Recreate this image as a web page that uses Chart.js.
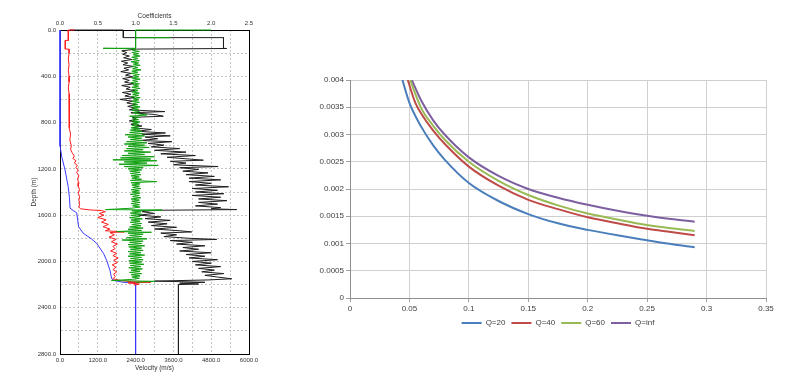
<!DOCTYPE html>
<html><head><meta charset="utf-8">
<script src="https://cdn.jsdelivr.net/npm/chart.js@4.4.1/dist/chart.umd.min.js"></script>
<style>
html,body{margin:0;padding:0;background:#fff;width:800px;height:379px;overflow:hidden}
#c1{position:absolute;left:0;top:0}
#c2{position:absolute;left:300px;top:0}
</style></head><body>
<canvas id="c1" width="265" height="379"></canvas>
<canvas id="c2" width="500" height="379"></canvas>
<script>
// ---------- Left panel: well log, [depth (m), value] ----------
const velocityTickLabels = [0, 1200, 2400, 3600, 4800, 6000];
const coefTickLabels = [0, 0.5, 1.0, 1.5, 2.0, 2.5];
const depthTickLabels = [0, 400, 800, 1200, 1600, 2000, 2400, 2800];

// blue velocity log [depth, m/s]
const blueLog = [[0,0],[1000,0],[1100,60],[1210,160],[1354,260],[1450,300],[1540,320],[1560,420],[1580,530],[1640,560],[1700,590],[1757,740],[1805,1000],[1843,1160],[1930,1380],[1990,1480],[2080,1590],[2150,1640],[2165,1715],[2180,2000],[2185,2400],[2800,2400]];

// black velocity log [depth, m/s]
const blackLog = [[0,320],[0,2010],[66,2010],[66,5190],[158,5190],[160,5290],[165,2430],
[180,1960],[195,2120],[210,1990],[225,2200],[240,2020],[255,2280],[270,1950],[285,2150],[300,2000],[315,2330],[330,2030],[345,2180],[360,1930],[375,2260],[390,2080],[405,2310],[420,1990],[435,2200],[450,2050],[465,2340],[480,1960],[495,2230],[510,2100],[525,2380],[540,1980],[555,2250],[570,2060],[585,2360],[600,1900],[615,2300],[630,2120],[645,2400],[660,2150],[675,2380],[690,2200],[705,3330],[715,2250],[730,3000],[745,3280],[755,2300],[770,2420],[785,2200],[800,2480],[815,2250],[830,2600],[845,2300],[860,2900],[875,2450],[890,3350],[900,2600],[915,3500],[925,2700],[940,3100],[955,2550],[965,3550],[980,2800],[995,3300],[1010,2900],[1025,3800],[1040,3000],[1055,4000],[1070,3200],[1085,4300],[1100,3400],[1115,4100],[1125,4550],[1135,3500],[1150,4000],[1165,3600],[1180,5020],[1190,3800],[1205,4400],[1220,3900],[1235,4700],[1250,4000],[1265,4900],[1280,4100],[1295,5100],[1310,4100],[1325,4800],[1340,4300],[1355,5350],[1370,4200],[1385,5000],[1400,4300],[1415,5200],[1430,4200],[1445,5100],[1460,4400],[1475,5300],[1490,4400],[1505,5000],[1520,4300],[1535,5100],[1545,4800],[1552,5610],[1558,3000],[1570,2600],[1585,3000],[1600,2500],[1615,3200],[1630,2700],[1645,3500],[1660,2800],[1675,3400],[1690,2900],[1705,3700],[1720,3000],[1735,3800],[1745,4180],[1755,3200],[1770,3700],[1785,3300],[1800,4100],[1810,4975],[1820,3500],[1835,4200],[1850,3700],[1865,4600],[1880,3900],[1895,4400],[1910,3800],[1925,4800],[1940,4000],[1955,4600],[1970,4100],[1985,5000],[2000,4200],[2015,4800],[2030,4300],[2045,5100],[2060,4400],[2075,4900],[2090,4500],[2105,5200],[2120,4600],[2135,5000],[2150,5450],[2160,4700],[2170,3000],[2180,4600],[2188,3800],[2195,4400],[2200,3760],[2800,3760]];

// red coefficient log [depth, coefficient]
const redLog = [[0,0.19],[0,0.11],[90,0.11],[90,0.07],[165,0.07],[165,0.12],[200,0.12],[250,0.11],[300,0.12],[350,0.11],[400,0.12],[450,0.12],[500,0.11],[550,0.12],[600,0.12],[650,0.12],[700,0.13],[750,0.12],[800,0.13],[850,0.12],[900,0.14],[950,0.13],[1000,0.15],[1030,0.14],[1060,0.16],[1090,0.19],[1110,0.17],[1130,0.21],[1150,0.19],[1170,0.23],[1190,0.21],[1210,0.24],[1230,0.22],[1260,0.25],[1290,0.23],[1320,0.25],[1350,0.24],[1380,0.26],[1410,0.24],[1440,0.26],[1470,0.25],[1500,0.26],[1530,0.25],[1545,0.27],[1555,0.40],[1560,0.55],[1570,0.60],[1585,0.52],[1600,0.58],[1620,0.50],[1640,0.61],[1660,0.55],[1680,0.64],[1700,0.57],[1720,0.66],[1735,0.60],[1745,0.85],[1750,0.66],[1770,0.72],[1790,0.65],[1810,0.74],[1830,0.68],[1850,0.76],[1870,0.70],[1890,0.73],[1910,0.67],[1930,0.75],[1950,0.70],[1970,0.77],[1990,0.71],[2010,0.76],[2030,0.69],[2050,0.74],[2070,0.70],[2090,0.75],[2110,0.71],[2130,0.73],[2150,0.70],[2165,0.80],[2175,0.95],[2180,1.20],[2185,0.90],[2195,1.05],[2205,0.98]];

// green coefficient log [depth, coefficient]
const greenLog = [[0,2.0],[0,1.0],[66,1.0],[66,1.46],[66,1.0],[158,1.0],[158,0.57],[162,1.0],
[175,0.96],[185,1.05],[195,0.95],[205,1.04],[215,0.97],[225,1.06],[235,0.95],[245,1.03],[255,0.96],[265,1.05],[275,0.94],[285,1.04],[295,0.97],[305,1.06],[315,0.95],[325,1.03],[335,0.96],[345,1.07],[355,0.95],[365,1.03],[375,0.94],[385,1.05],[395,0.97],[405,1.04],[415,0.95],[425,1.06],[435,0.96],[445,1.03],[455,0.94],[465,1.05],[475,0.97],[485,1.04],[495,0.95],[505,1.06],[515,0.96],[525,1.03],[535,0.95],[545,1.05],[555,0.96],[565,1.04],[575,0.94],[585,1.06],[595,0.97],[605,1.04],[615,0.95],[625,1.05],[635,0.96],[645,1.03],[655,0.95],[665,1.06],[675,0.96],[685,1.04],[695,0.95],[705,1.05],[715,0.97],[725,1.04],[735,1.15],[745,0.92],[755,1.05],[765,0.96],[775,1.04],[785,0.95],[795,1.06],[805,0.96],[815,1.04],[825,0.95],[835,1.05],[845,0.94],[855,1.06],[865,0.93],[875,1.08],[885,0.92],[895,1.10],[905,0.86],[915,1.12],[925,0.90],[935,1.08],[945,0.93],[955,1.10],[965,0.88],[975,1.15],[985,0.85],[995,1.12],[1005,0.90],[1015,1.18],[1025,0.88],[1035,1.10],[1045,0.85],[1055,1.20],[1065,0.90],[1075,1.12],[1085,0.82],[1095,1.25],[1105,0.80],[1115,1.20],[1122,0.70],[1130,1.28],[1140,0.85],[1150,1.15],[1160,0.78],[1170,1.30],[1180,0.85],[1190,1.10],[1200,0.90],[1210,1.08],[1220,0.92],[1230,1.06],[1240,0.93],[1250,1.07],[1260,0.94],[1270,1.05],[1280,0.95],[1290,1.08],[1300,0.93],[1310,1.28],[1320,0.94],[1330,1.06],[1340,0.95],[1350,1.05],[1360,0.96],[1370,1.07],[1380,0.94],[1390,1.05],[1400,0.95],[1410,1.06],[1420,0.93],[1430,1.05],[1440,0.96],[1450,1.07],[1460,0.94],[1470,1.05],[1480,0.95],[1490,1.06],[1500,0.94],[1510,1.05],[1520,0.96],[1530,1.06],[1540,0.95],[1552,0.60],[1556,1.35],[1562,0.95],[1572,1.07],[1582,0.93],[1592,1.08],[1602,0.94],[1612,1.06],[1622,0.92],[1632,1.09],[1642,0.94],[1652,1.06],[1662,0.93],[1672,1.08],[1682,0.95],[1692,1.07],[1702,0.92],[1712,1.10],[1722,0.90],[1732,1.08],[1742,0.75],[1748,1.21],[1755,0.90],[1765,1.10],[1775,0.92],[1785,1.08],[1795,0.88],[1805,1.15],[1815,0.82],[1825,1.10],[1835,0.92],[1845,1.08],[1855,0.90],[1865,1.12],[1875,0.91],[1885,1.08],[1895,0.93],[1905,1.10],[1915,0.90],[1925,1.07],[1935,0.92],[1945,1.12],[1955,0.90],[1965,1.08],[1975,0.93],[1985,1.10],[1995,0.91],[2005,1.08],[2015,0.92],[2025,1.11],[2035,0.93],[2045,1.07],[2055,0.91],[2065,1.09],[2075,0.94],[2085,1.06],[2095,0.92],[2105,1.08],[2115,0.94],[2125,1.06],[2135,0.95],[2145,1.05],[2155,0.96],[2165,0.68],[2172,1.26],[2180,1.00]];

// ---------- Right panel: curves [x, y] ----------
const seriesNames = ['Q=20', 'Q=40', 'Q=60', 'Q=inf'];
const q20 = [[0.0441,0.0040],[0.05,0.00358],[0.06,0.00314],[0.07,0.0028],[0.08,0.00253],[0.1,0.00211],[0.125,0.00178],[0.15,0.00154],[0.175,0.00137],[0.2,0.00125],[0.225,0.00115],[0.25,0.00106],[0.27,0.00099],[0.29,0.00093]];
const q40 = [[0.0486,0.0040],[0.055,0.00358],[0.06,0.00338],[0.07,0.00307],[0.08,0.00282],[0.1,0.00241],[0.125,0.00206],[0.15,0.0018],[0.175,0.00163],[0.2,0.00148],[0.225,0.00137],[0.25,0.00127],[0.27,0.00121],[0.29,0.00115]];
const q60 = [[0.0506,0.0040],[0.06,0.00348],[0.07,0.00316],[0.08,0.0029],[0.1,0.0025],[0.125,0.00215],[0.15,0.00189],[0.175,0.0017],[0.2,0.00155],[0.225,0.00144],[0.25,0.00134],[0.27,0.00128],[0.29,0.00123]];
const qInf = [[0.052,0.0040],[0.06,0.00362],[0.07,0.00326],[0.08,0.00299],[0.1,0.00258],[0.125,0.00224],[0.15,0.002],[0.175,0.00184],[0.2,0.00171],[0.225,0.0016],[0.25,0.00151],[0.27,0.00145],[0.29,0.0014]];

const F = "'Liberation Sans', Arial, sans-serif";
const txt = '#333';

// ---------- Left chart ----------
const logDs = (arr, color, axis, label) => ({
  label, data: arr.map(([d, v]) => ({x: v, y: d})), xAxisID: axis, yAxisID: 'y',
  showLine: true, borderColor: color, borderWidth: 1, pointRadius: 0, tension: 0, clip: false
});
new Chart(document.getElementById('c1'), {
  type: 'scatter',
  data: { datasets: [
    logDs(greenLog, '#10a010', 'x2', 'Coefficient A'),
    logDs(redLog, '#ff1a1a', 'x2', 'Coefficient B'),
    logDs(blueLog, '#3a3aff', 'x', 'Velocity B'),
    logDs(blackLog, '#1e1e1e', 'x', 'Velocity A')
  ]},
  options: {
    responsive: false, animation: false, devicePixelRatio: 1,
    layout: { padding: 0 },
    plugins: { legend: { display: false }, tooltip: { enabled: false } },
    scales: {
      x: { type: 'linear', position: 'bottom', min: 0, max: 6000,
        afterFit(s) { s.height = 25; },
        afterBuildTicks(s) { s.ticks = [0,600,1200,1800,2400,3000,3600,4200,4800,5400,6000].map(v => ({value: v})); },
        ticks: { autoSkip: false, maxRotation: 0, padding: 3, font: { size: 6, family: F }, color: txt,
          callback: v => velocityTickLabels.includes(v) ? v.toFixed(1) : '' },
        grid: { color: '#c4c4c4', lineWidth: 1, drawTicks: false },
        border: { color: '#000', width: 1, dash: [2, 2] },
        title: { display: true, text: 'Velocity (m/s)', color: txt, font: { size: 6.5, family: F }, padding: { top: 0, bottom: 7 } } },
      x2: { type: 'linear', position: 'top', min: 0, max: 2.5,
        afterFit(s) { s.height = 30; },
        afterBuildTicks(s) { s.ticks = coefTickLabels.map(v => ({value: v})); },
        ticks: { autoSkip: false, maxRotation: 0, padding: 3, font: { size: 6, family: F }, color: txt,
          callback: v => v.toFixed(1) },
        grid: { display: false, drawTicks: false },
        border: { color: '#000', width: 1 },
        title: { display: true, text: 'Coefficients', color: txt, font: { size: 6.5, family: F }, padding: { top: 12, bottom: 0 } } },
      y: { type: 'linear', position: 'left', reverse: true, min: 0, max: 2800,
        afterFit(s) { s.width = 60; },
        afterBuildTicks(s) { const t = []; for (let k = 0; k <= 14; k++) t.push({value: k * 200}); s.ticks = t; },
        ticks: { autoSkip: false, padding: 4, font: { size: 6, family: F }, color: txt,
          callback: v => depthTickLabels.includes(v) ? v.toFixed(1) : '' },
        grid: { color: '#c4c4c4', lineWidth: 1, drawTicks: false },
        border: { color: '#000', width: 1, dash: [2, 2] },
        title: { display: true, text: 'Depth (m)', color: txt, font: { size: 6.5, family: F }, padding: { top: 30, bottom: 0 } } },
      y2: { type: 'linear', position: 'right', min: 0, max: 1,
        afterFit(s) { s.width = 16; },
        ticks: { display: false }, grid: { display: false, drawTicks: false },
        border: { color: '#000', width: 1 } }
    }
  }
});

// ---------- Right chart ----------
const colors = ['#4a7ebb', '#be4b48', '#98b954', '#7d5fa0'];
const curves = [q20, q40, q60, qInf];
const F2 = "'Liberation Sans', Arial, sans-serif";
// centre the legend under the plot area (as the original does)
const centreLegend = { id: 'centreLegend', afterLayout(chart) {
  const L = chart.legend; if (!L) return;
  const shift = (chart.chartArea.left + chart.chartArea.right) / 2 - (L.left + L.right) / 2;
  L.left += shift; L.right += shift;
}};
new Chart(document.getElementById('c2'), {
  type: 'scatter',
  data: { datasets: curves.map((c, i) => ({
    label: seriesNames[i], data: c.map(([x, y]) => ({x, y})), showLine: true,
    borderColor: colors[i], backgroundColor: colors[i], borderWidth: 2, pointRadius: 0,
    cubicInterpolationMode: 'monotone', pointStyle: 'line'
  }))},
  plugins: [centreLegend],
  options: {
    responsive: false, animation: false, devicePixelRatio: 1,
    layout: { padding: { left: 0, right: 34, top: 80, bottom: 42 } },
    plugins: {
      tooltip: { enabled: false },
      legend: { position: 'bottom', align: 'center',
        labels: { usePointStyle: true, pointStyle: 'line', pointStyleWidth: 20, boxHeight: 8, padding: 6,
          color: '#404040', font: { size: 8, family: F2 } } }
    },
    scales: {
      x: { type: 'linear', min: 0, max: 0.35,
        afterFit(s) { s.height = 15; },
        ticks: { stepSize: 0.05, autoSkip: false, maxRotation: 0, padding: 2, color: '#404040', font: { size: 8, family: F2 },
          callback: v => String(+v.toFixed(4)) },
        grid: { color: '#d0d0d0', lineWidth: 1, tickLength: 4, tickColor: '#a0a0a0' },
        border: { color: '#909090', width: 1 } },
      y: { type: 'linear', min: 0, max: 0.004,
        afterFit(s) { s.width = 50; },
        ticks: { stepSize: 0.0005, autoSkip: false, padding: 2, color: '#404040', font: { size: 8, family: F2 },
          callback: v => String(+v.toFixed(5)) },
        grid: { color: '#d0d0d0', lineWidth: 1, tickLength: 4, tickColor: '#a0a0a0' },
        border: { color: '#909090', width: 1 } }
    }
  }
});
</script>
</body></html>
